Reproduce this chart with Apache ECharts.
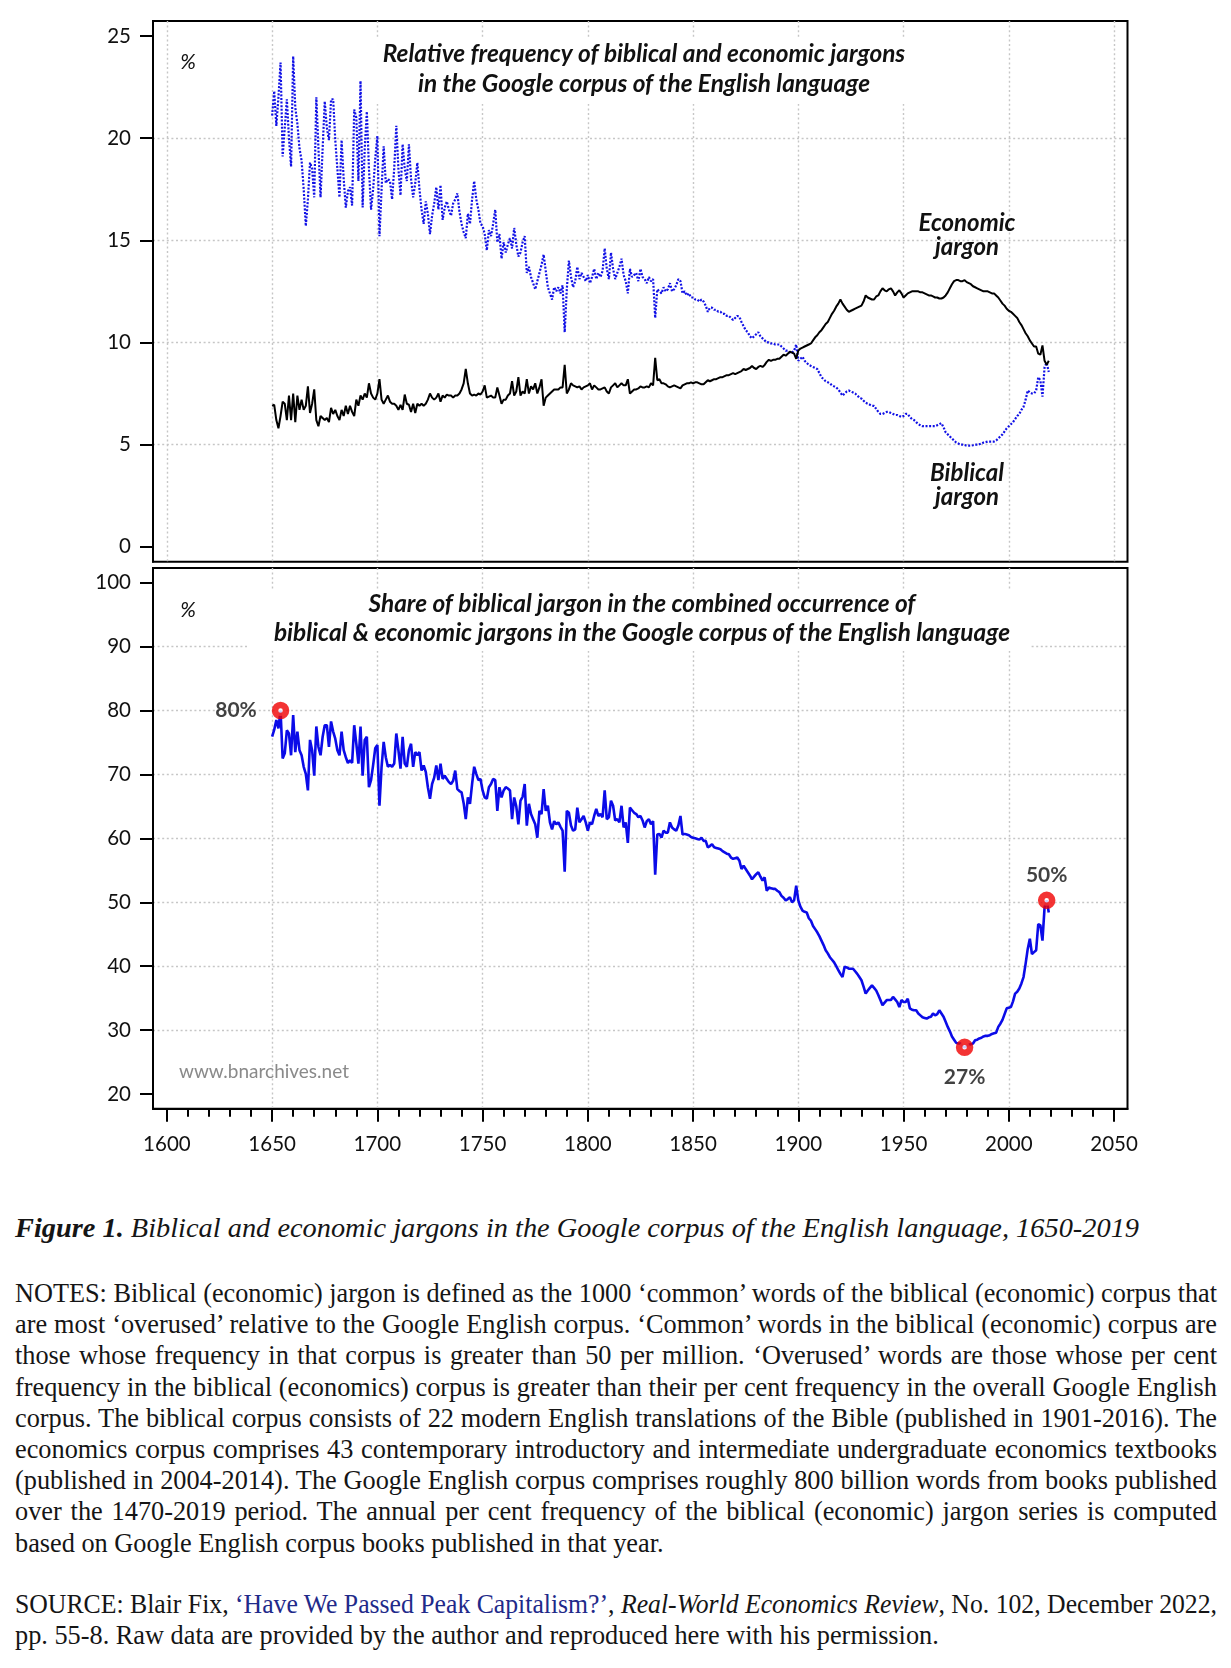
<!DOCTYPE html>
<html>
<head>
<meta charset="utf-8">
<script src="https://cdn.jsdelivr.net/npm/echarts@6/dist/echarts.min.js"></script>
<style>
html,body{margin:0;padding:0;background:#fff;}
#wrap{position:relative;width:1231px;height:1668px;overflow:hidden;}
#chart{position:absolute;left:0;top:0;width:1231px;height:1195px;}
.serif{position:absolute;left:15px;font-family:"Liberation Serif","Times New Roman",serif;color:#151515;white-space:nowrap;}
.line{white-space:nowrap;}
.line span{display:inline-block;transform-origin:0 50%;}
a.src{color:#1f2a8a;text-decoration:none;}
</style>
</head>
<body>
<div id="wrap">
  <div id="chart"></div>
  <div class="serif" id="caption" style="top:1211px;font-size:27.5px;line-height:33px;">
    <div class="line fit" data-w="1124"><span><b><i>Figure 1.</i></b><i> Biblical and economic jargons in the Google corpus of the English language, 1650-2019</i></span></div>
  </div>
  <div class="serif" id="notes" style="top:1278px;font-size:26.3px;line-height:31.2px;">
    <div class="line j"><span>NOTES: Biblical (economic) jargon is defined as the 1000 ‘common’ words of the biblical (economic) corpus that</span></div>
    <div class="line j"><span>are most ‘overused’ relative to the Google English corpus. ‘Common’ words in the biblical (economic) corpus are</span></div>
    <div class="line j"><span>those whose frequency in that corpus is greater than 50 per million. ‘Overused’ words are those whose per cent</span></div>
    <div class="line j"><span>frequency in the biblical (economics) corpus is greater than their per cent frequency in the overall Google English</span></div>
    <div class="line j"><span>corpus. The biblical corpus consists of 22 modern English translations of the Bible (published in 1901-2016). The</span></div>
    <div class="line j"><span>economics corpus comprises 43 contemporary introductory and intermediate undergraduate economics textbooks</span></div>
    <div class="line j"><span>(published in 2004-2014). The Google English corpus comprises roughly 800 billion words from books published</span></div>
    <div class="line j"><span>over the 1470-2019 period. The annual per cent frequency of the biblical (economic) jargon series is computed</span></div>
    <div class="line"><span>based on Google English corpus books published in that year.</span></div>
  </div>
  <div class="serif" id="source" style="top:1589px;font-size:26.3px;line-height:31.2px;">
    <div class="line j"><span>SOURCE: Blair Fix, <a class="src">‘Have We Passed Peak Capitalism?’</a>, <i>Real-World Economics Review</i>, No. 102, December 2022,</span></div>
    <div class="line"><span>pp. 55-8. Raw data are provided by the author and reproduced here with his permission.</span></div>
  </div>
</div>
<script>
// ---------------- data ----------------
const firstYear = 1650;

// Relative frequency of biblical jargon, % (1650-2019)
const biblical = [
21.1,22.3,20.6,22.0,23.7,19.1,20.5,21.9,20.0,18.6,
24.0,21.5,20.7,19.5,18.9,17.5,15.7,17.0,18.8,18.5,
17.1,22.0,19.5,17.1,19.5,21.8,20.5,19.9,21.9,21.9,
19.9,18.5,17.1,19.9,18.0,16.6,17.4,17.6,16.7,21.4,
21.0,17.9,22.8,16.6,19.5,21.3,18.5,16.5,17.5,19.0,
20.1,15.2,17.5,19.6,17.8,18.0,17.9,17.0,18.5,20.6,
18.5,17.2,19.7,18.5,17.9,19.7,18.0,17.1,17.8,18.8,
17.5,16.5,15.8,16.9,16.3,15.3,16.2,16.8,17.6,16.5,
17.7,16.0,16.6,16.9,16.5,16.2,16.8,17.0,17.3,16.4,
15.8,15.4,15.1,16.3,15.8,17.0,17.9,17.0,16.5,15.8,
15.7,15.3,14.5,15.5,15.2,15.8,16.5,14.9,15.3,14.1,
14.9,14.4,14.8,15.1,14.6,15.6,14.8,14.2,14.4,14.9,
15.2,13.4,13.7,13.2,12.9,12.6,13.0,13.4,13.8,14.3,
13.5,12.7,12.4,12.1,12.7,12.5,12.7,12.4,12.8,10.5,
12.6,14.0,13.2,12.7,13.0,13.7,13.1,13.4,13.2,13.0,
13.3,12.9,13.2,13.6,13.1,13.4,13.2,13.5,14.6,13.6,
13.1,14.4,13.6,13.1,13.4,13.7,14.1,13.3,13.0,12.4,
13.6,13.2,13.3,13.4,13.0,13.6,13.2,13.1,12.9,13.2,
13.0,13.1,11.2,12.6,12.5,12.4,12.7,12.5,12.6,12.9,
12.5,12.6,12.8,13.1,13.0,12.4,12.5,12.3,12.4,12.2,
12.2,12.1,12.1,12.0,12.1,12.0,11.8,11.5,11.7,11.7,
11.6,11.6,11.5,11.5,11.4,11.4,11.3,11.3,11.2,11.1,
11.2,11.3,11.25,11.0,10.8,10.6,10.5,10.3,10.2,10.3,
10.4,10.5,10.3,10.2,10.1,10.0,10.0,9.95,9.95,9.9,
9.9,9.9,9.8,9.7,9.6,9.6,9.5,9.5,9.6,9.9,
9.1,9.2,9.3,9.1,9.0,8.9,8.85,8.8,8.75,8.7,
8.5,8.3,8.2,8.1,8.05,8.0,7.9,7.85,7.8,7.7,
7.55,7.4,7.5,7.6,7.65,7.6,7.55,7.5,7.4,7.3,
7.25,7.15,7.05,7.0,6.95,6.9,6.9,6.75,6.6,6.5,
6.5,6.55,6.6,6.6,6.55,6.5,6.45,6.45,6.4,6.35,
6.4,6.5,6.5,6.35,6.25,6.2,6.1,6.0,5.95,5.9,
5.9,5.9,5.9,5.9,5.9,5.9,5.95,6.0,6.05,5.85,
5.6,5.5,5.4,5.3,5.2,5.1,5.05,5.0,5.0,4.98,
4.95,4.95,4.95,4.97,5.0,5.0,5.02,5.05,5.1,5.12,
5.15,5.15,5.15,5.15,5.2,5.3,5.4,5.5,5.65,5.8,
5.9,6.0,6.1,6.25,6.4,6.5,6.7,6.85,7.2,7.65,
7.55,7.5,7.5,7.65,8.3,8.15,7.35,8.8,9.0,8.55
];

// Relative frequency of economic jargon, % (1650-2019)
const economic = [
6.9,6.95,6.2,5.8,6.4,7.1,7.0,6.2,7.4,6.2,
7.5,6.1,7.4,6.7,7.2,6.7,6.9,7.85,6.55,7.0,
7.7,6.2,5.9,6.4,6.3,6.2,6.3,6.1,6.8,6.5,
6.7,6.4,6.2,6.7,6.4,6.9,6.5,6.9,6.6,6.4,
7.2,6.9,7.4,7.2,7.5,7.3,8.0,7.5,7.3,7.2,
7.5,8.2,7.2,7.0,7.2,7.4,7.1,7.0,7.0,6.9,
6.7,6.95,6.7,7.45,7.0,6.95,6.6,7.0,6.55,7.0,
6.9,7.0,6.9,7.0,7.2,7.5,7.3,7.2,7.3,7.5,
7.1,7.4,7.3,7.45,7.4,7.4,7.3,7.4,7.4,7.5,
7.7,8.0,8.7,8.0,7.5,7.4,7.45,7.4,7.5,7.45,
7.6,7.9,7.3,7.35,7.4,7.3,7.3,7.8,7.4,7.0,
7.2,7.2,7.4,7.5,8.1,7.4,7.6,8.3,7.4,7.6,
7.5,8.2,7.5,7.85,7.7,8.0,7.5,7.8,8.2,6.9,
7.3,7.4,7.5,7.6,7.7,7.7,7.7,7.8,7.8,8.9,
7.5,7.7,8.0,7.9,7.85,7.8,7.85,7.7,7.8,7.85,
7.9,8.0,7.7,7.9,7.8,7.7,7.7,7.75,7.8,7.6,
7.5,7.8,7.9,8.0,7.8,7.9,8.0,7.9,7.9,8.2,
7.5,7.6,7.7,7.7,7.75,7.85,7.8,7.8,7.85,7.8,
8.0,7.9,9.25,8.15,8.2,8.0,8.0,7.95,7.85,7.8,
7.85,7.9,7.85,7.8,7.75,7.9,7.95,8.0,8.0,8.05,
8.0,8.05,8.05,8.0,7.95,7.95,8.05,8.15,8.1,8.15,
8.2,8.2,8.25,8.3,8.3,8.35,8.4,8.4,8.45,8.5,
8.45,8.5,8.55,8.6,8.7,8.65,8.7,8.75,8.85,8.75,
8.7,8.8,8.85,8.8,8.9,9.05,9.15,9.1,9.15,9.15,
9.2,9.2,9.3,9.4,9.35,9.45,9.55,9.5,9.45,9.2,
9.6,9.7,9.75,9.8,9.85,9.9,9.95,10.1,10.25,10.35,
10.5,10.6,10.75,10.9,11.0,11.2,11.4,11.55,11.75,11.9,
12.1,11.9,11.75,11.6,11.5,11.55,11.6,11.65,11.7,11.75,
11.8,12.0,12.3,12.2,12.15,12.1,12.1,12.25,12.3,12.5,
12.65,12.55,12.5,12.6,12.65,12.5,12.3,12.45,12.55,12.4,
12.2,12.3,12.4,12.45,12.5,12.5,12.5,12.5,12.45,12.45,
12.4,12.35,12.3,12.3,12.25,12.2,12.2,12.15,12.15,12.2,
12.3,12.45,12.65,12.85,13.0,13.05,13.05,13.0,13.0,13.05,
12.95,12.9,12.85,12.75,12.7,12.65,12.6,12.55,12.5,12.5,
12.5,12.45,12.4,12.4,12.3,12.2,12.05,11.9,11.8,11.65,
11.55,11.5,11.4,11.3,11.2,11.0,10.85,10.65,10.45,10.3,
10.1,9.95,9.8,9.8,9.45,9.4,9.85,9.1,8.9,9.1
];

// Share of biblical jargon in combined occurrence, % (1650-2019)
const share = [
75.9,77.0,78.5,77.2,80.0,72.5,73.3,76.9,76.4,73.0,
79.3,73.5,76.7,73.8,73.0,71.2,70.1,67.5,75.4,73.8,
69.8,77.5,74.3,73.0,75.9,77.7,77.7,74.3,78.3,76.7,
75.6,73.8,73.0,76.7,73.8,72.7,71.8,72.2,71.8,77.7,
74.8,71.7,77.5,69.8,75.4,75.9,68.0,69.1,71.5,74.1,
74.6,65.1,71.2,75.1,72.7,71.2,71.5,71.2,71.7,76.4,
73.8,70.9,75.9,71.7,71.2,73.8,74.8,71.2,73.5,73.0,
73.5,70.6,71.4,70.4,68.0,66.2,68.5,69.5,71.4,69.1,
71.7,69.3,69.8,69.3,68.8,68.5,69.0,70.6,67.7,67.4,
67.2,65.5,63.0,66.4,65.4,68.5,71.2,70.1,69.1,69.3,
67.5,66.4,66.2,68.0,68.5,69.3,69.1,64.3,68.0,66.4,
67.5,68.0,67.8,67.5,63.0,66.4,65.0,62.2,65.9,66.5,
68.5,62.0,65.4,63.8,63.0,62.2,60.1,64.3,63.8,67.7,
64.3,65.1,62.5,61.4,62.7,62.2,62.5,61.8,61.2,54.8,
64.3,64.0,62.0,61.2,61.4,64.8,62.5,63.0,63.5,62.5,
61.2,62.5,62.2,63.5,64.6,63.5,63.8,63.3,67.5,63.0,
63.3,65.9,65.1,62.8,63.0,62.5,65.1,61.7,62.5,59.3,
64.8,64.4,64.0,63.8,63.3,63.5,62.8,61.7,62.7,63.0,
62.2,62.7,54.3,60.6,60.7,60.1,61.2,60.9,60.9,62.5,
61.7,61.4,61.2,62.0,63.5,60.6,60.7,60.6,60.5,60.2,
60.1,60.0,59.9,59.8,60.1,59.6,59.6,58.6,58.8,59.1,
58.6,58.5,58.4,58.3,58.0,57.8,57.6,57.5,57.0,56.8,
56.9,57.0,56.5,55.2,55.7,55.2,54.7,54.2,53.6,54.0,
54.4,54.7,54.0,53.4,53.9,51.8,52.3,52.2,52.1,52.1,
51.8,51.6,51.0,50.7,50.3,50.5,50.8,50.0,50.3,52.6,
50.3,49.3,48.7,48.5,48.4,47.5,47.1,46.3,45.8,45.3,
44.7,44.0,43.3,42.5,42.0,41.4,41.0,40.6,40.0,39.4,
38.8,38.3,39.9,39.8,39.6,39.6,39.6,39.2,38.8,38.3,
37.8,36.8,35.7,36.2,36.6,37.0,36.6,36.2,35.5,34.7,
33.9,34.3,34.7,34.7,34.7,35.2,34.8,34.4,33.6,34.7,
34.4,34.4,34.9,33.4,33.2,33.1,33.1,32.6,32.3,32.0,
31.9,31.8,32.0,32.1,32.6,32.3,32.5,33.1,32.6,32.1,
31.3,30.5,29.8,29.0,28.5,28.0,27.9,27.9,27.5,27.3,
27.5,27.7,27.8,27.9,28.4,28.5,28.7,28.8,29.0,29.1,
29.1,29.2,29.4,29.5,29.6,30.5,31.0,31.6,32.5,33.4,
33.5,33.6,34.5,35.7,36.0,36.5,37.3,38.3,40.4,42.7,
44.3,41.9,42.2,42.5,46.6,46.4,44.0,49.2,50.3,48.4
];

// highlighted points on the share series
const markerYears = [1654, 1979, 2018];
const markerLabels = ['80%', '27%', '50%'];
const markerLabelPos = ['left', 'bottom', 'top'];

// axis ticks
const xTicks = [1600, 1650, 1700, 1750, 1800, 1850, 1900, 1950, 2000, 2050];
const yTicksTop = [0, 5, 10, 15, 20, 25];
const yTicksBottom = [20, 30, 40, 50, 60, 70, 80, 90, 100];

// text
const topTitle = 'Relative frequency of biblical and economic jargons\nin the Google corpus of the English language';
const bottomTitle = 'Share of biblical jargon in the combined occurrence of\nbiblical & economic jargons in the Google corpus of the English language';
const econLabel = 'Economic\njargon';
const bibLabel = 'Biblical\njargon';
const watermark = 'www.bnarchives.net';

// ---------------- chart ----------------
const toPairs = arr => arr.map((v, i) => [firstYear + i, v]);
const FONT = 'Lato, "Noto Sans", sans-serif';

const gridLine = {
  show: true, showMinLine: false, showMaxLine: false,
  lineStyle: { color: '#c6c6c6', width: 1.4, type: [2, 2.6] }
};
const blackLine = { show: true, onZero: false, lineStyle: { color: '#000', width: 2 } };

const markerData = markerYears.map((yr, i) => ({
  value: [yr, share[yr - firstYear]],
  label: {
    position: markerLabelPos[i],
    distance: markerLabelPos[i] === 'left' ? 15 : (markerLabelPos[i] === 'bottom' ? 11 : 6)
  }
}));

const chart = echarts.init(document.getElementById('chart'), null, { renderer: 'canvas' });

const axisFont = { fontFamily: FONT, fontSize: 20.5, color: '#111', formatter: v => String(v) };

const option = {
  animation: false,
  backgroundColor: '#fff',
  grid: [
    { left: 153, top: 21, width: 974.5, height: 540.7, show: true, borderColor: '#000', borderWidth: 2, backgroundColor: 'transparent' },
    { left: 153, top: 568, width: 974.5, height: 540.7, show: true, borderColor: '#000', borderWidth: 2, backgroundColor: 'transparent' }
  ],
  xAxis: [
    {
      gridIndex: 0, type: 'value', min: 1593.4, max: 2056.4, minInterval: 50, maxInterval: 50,
      axisLine: { show: false }, axisTick: { show: false }, axisLabel: { show: false },
      splitLine: gridLine
    },
    {
      gridIndex: 1, type: 'value', min: 1593.4, max: 2056.4, minInterval: 50, maxInterval: 50,
      axisLine: blackLine,
      axisTick: { show: true, customValues: xTicks, length: 13, lineStyle: { color: '#000', width: 2 } },
      minorTick: { show: true, splitNumber: 5, length: 8, lineStyle: { color: '#000', width: 2 } },
      axisLabel: Object.assign({ customValues: xTicks, margin: 25 }, axisFont),
      splitLine: gridLine
    }
  ],
  yAxis: [
    {
      gridIndex: 0, type: 'value', min: -0.73, max: 25.73, minInterval: 5, maxInterval: 5,
      axisLine: blackLine,
      axisTick: { show: true, customValues: yTicksTop, length: 13, lineStyle: { color: '#000', width: 2 } },
      axisLabel: Object.assign({ customValues: yTicksTop, margin: 22 }, axisFont),
      splitLine: gridLine
    },
    {
      gridIndex: 1, type: 'value', min: 17.7, max: 102.3, minInterval: 10, maxInterval: 10,
      axisLine: blackLine,
      axisTick: { show: true, customValues: yTicksBottom, length: 13, lineStyle: { color: '#000', width: 2 } },
      axisLabel: Object.assign({ customValues: yTicksBottom, margin: 22 }, axisFont),
      splitLine: gridLine
    }
  ],
  series: [
    {
      name: 'Biblical jargon', type: 'line', xAxisIndex: 0, yAxisIndex: 0,
      data: toPairs(biblical), showSymbol: false, symbol: 'none', z: 3,
      lineStyle: { color: '#1212e6', width: 2.2, type: [2, 1.6] }
    },
    {
      name: 'Economic jargon', type: 'line', xAxisIndex: 0, yAxisIndex: 0,
      data: toPairs(economic), showSymbol: false, symbol: 'none', z: 3,
      lineStyle: { color: '#000', width: 2 }
    },
    {
      name: 'Share', type: 'line', xAxisIndex: 1, yAxisIndex: 1,
      data: toPairs(share), showSymbol: false, symbol: 'none', z: 3,
      lineStyle: { color: '#0b0be8', width: 2.6 }
    },
    {
      name: 'Highlights', type: 'scatter', xAxisIndex: 1, yAxisIndex: 1, z: 6,
      data: markerData, symbol: 'circle', symbolSize: 11,
      itemStyle: { color: '#fff', borderColor: '#f00000', borderWidth: 6.5 },
      label: {
        show: true, fontFamily: FONT, fontWeight: 'bold', fontSize: 21, color: '#111',
        formatter: p => markerLabels[p.dataIndex]
      }
    }
  ],
  graphic: [
    // title boxes that mask the grid lines
    { type: 'rect', z: 5, shape: { x: 368, y: 38, width: 552, height: 66 }, style: { fill: '#fff' }, silent: true },
    { type: 'text', z: 6, x: 644, y: 69.5, style: { text: topTitle, align: 'center', verticalAlign: 'middle', fontFamily: FONT, fontSize: 24.4, fontWeight: 'bold', fontStyle: 'italic', lineHeight: 30, fill: '#111' } },
    { type: 'rect', z: 5, shape: { x: 248, y: 590, width: 783, height: 61 }, style: { fill: '#fff' }, silent: true },
    { type: 'text', z: 6, x: 642, y: 618.5, style: { text: bottomTitle, align: 'center', verticalAlign: 'middle', fontFamily: FONT, fontSize: 24.4, fontWeight: 'bold', fontStyle: 'italic', lineHeight: 29.5, fill: '#111' } },
    // percent signs
    { type: 'text', z: 6, x: 188, y: 62, style: { text: '%', align: 'center', verticalAlign: 'middle', fontFamily: FONT, fontSize: 21, fontStyle: 'italic', fill: '#111' } },
    { type: 'text', z: 6, x: 188, y: 610, style: { text: '%', align: 'center', verticalAlign: 'middle', fontFamily: FONT, fontSize: 21, fontStyle: 'italic', fill: '#111' } },
    // series annotations
    { type: 'text', z: 6, x: 967, y: 235.5, style: { text: econLabel, align: 'center', verticalAlign: 'middle', fontFamily: FONT, fontSize: 24, fontWeight: 'bold', fontStyle: 'italic', lineHeight: 24, fill: '#111' } },
    { type: 'text', z: 6, x: 967, y: 485.5, style: { text: bibLabel, align: 'center', verticalAlign: 'middle', fontFamily: FONT, fontSize: 24, fontWeight: 'bold', fontStyle: 'italic', lineHeight: 24, fill: '#111' } },
    // watermark
    { type: 'text', z: 6, x: 179, y: 1072, style: { text: watermark, align: 'left', verticalAlign: 'middle', fontFamily: FONT, fontSize: 19, fill: '#8a8a8a' } }
  ]
};
chart.setOption(option);

// ---------------- fit / justify the text lines ----------------
function fitLines(container, target) {
  container.querySelectorAll('.line').forEach(line => {
    const span = line.querySelector('span');
    const tw = line.dataset.w ? parseFloat(line.dataset.w) : target;
    const w = span.getBoundingClientRect().width;
    if (line.classList.contains('fit')) {
      span.style.transform = 'scaleX(' + (tw / w) + ')';
    } else if (line.classList.contains('j')) {
      if (w > tw) {
        span.style.transform = 'scaleX(' + (tw / w) + ')';
      } else {
        const spaces = (span.textContent.match(/ /g) || []).length;
        if (spaces > 0) span.style.wordSpacing = ((tw - w) / spaces) + 'px';
      }
    }
  });
}
fitLines(document.getElementById('caption'), 1124);
fitLines(document.getElementById('notes'), 1202);
fitLines(document.getElementById('source'), 1202);
</script>
</body>
</html>
